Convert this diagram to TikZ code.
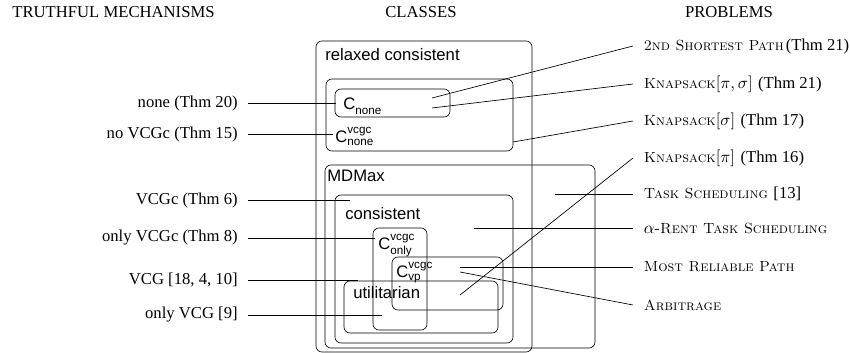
\documentclass[tikz,border=0pt]{standalone}
\usepackage{amsmath}
\usepackage{fontspec}
\setsansfont{Liberation Sans}
\newfontfamily\tms{Liberation Serif}
\usepackage{tikz}
\newcommand{\cls}[2]{\textsf{C}$_{\textsf{#1}}^{\textsf{#2}}$}
\newcommand{\thm}[1]{{\tms #1}}
\newcommand{\psc}[1]{{\fontsize{8.8}{11}\selectfont\textsc{#1}}}

\begin{document}
\begin{tikzpicture}[x=0.6pt,y=-0.6pt,
clsbox/.style={rounded corners=3.6pt},
clsname/.style={anchor=base west,inner sep=0pt,font=\sffamily},
mech/.style={anchor=east,inner sep=6pt,font=\tms},
prob/.style={anchor=west,inner sep=6.3pt},
head/.style={inner sep=0pt,font=\tms}]
\useasboundingbox (0,0) rectangle (850,353);
% headers
\node[head,anchor=west] (hmech) at (12,12.5) {TRUTHFUL MECHANISMS};
\node[head] (hcls) at (421,12.5) {CLASSES};
\node[head] (hprob) at (729,12.5) {PROBLEMS};
% classes
\draw[clsbox] (316,41) rectangle (532,352);
\draw[clsbox] (326,79) rectangle (513,151);
\draw[clsbox] (335,89) rectangle (450,117);
\draw[clsbox] (325,165) rectangle (595,348);
\draw[clsbox] (335,195) rectangle (513,343);
\draw[clsbox] (373,228) rectangle (427,330);
\draw[clsbox] (392,257) rectangle (503,310);
\draw[clsbox] (344,281) rectangle (498,333);
\node[clsname] (relaxed) at (325,61) {relaxed consistent};
\node[clsname] (cnone) at (343,110) {\cls{none}{}};
\node[clsname] (cnonevcgc) at (335,142) {\cls{none}{vcgc}};
\node[clsname] (mdmax) at (327,181) {MDMax};
\node[clsname] (consistent) at (345,219) {consistent};
\node[clsname] (conly) at (378,249) {\cls{only}{vcgc}};
\node[clsname] (cvp) at (396,277) {\cls{vp}{vcgc}};
\node[clsname] (util) at (353,298) {utilitarian};
% free ends inside the classes
\coordinate (p-none) at (336,103);
\coordinate (p-novcgc) at (333,134);
\coordinate (p-vcgc) at (350,200);
\coordinate (p-onlyvcgc) at (375,238);
\coordinate (p-vcg) at (358,280);
\coordinate (p-onlyvcg) at (382,315);
\coordinate (q-short) at (432,98);
\coordinate (q-kps) at (432,108);
\coordinate (q-ks) at (513,142);
\coordinate (q-kp) at (460,295);
\coordinate (q-task) at (555,194);
\coordinate (q-rent) at (474,228);
\coordinate (q-mrp) at (460,267);
\coordinate (q-arb) at (460,272);
% mechanisms
\node[mech] (m-none) at (248,103) {none (Thm 20)};
\node[mech] (m-novcgc) at (248,134) {no VCGc (Thm 15)};
\node[mech] (m-vcgc) at (248,200) {VCGc (Thm 6)};
\node[mech] (m-onlyvcgc) at (248,238) {only VCGc (Thm 8)};
\node[mech] (m-vcg) at (248,280) {VCG [18, 4, 10]};
\node[mech] (m-onlyvcg) at (248,315) {only VCG [9]};
\draw (m-none.east) -- (p-none);
\draw (m-novcgc.east) -- (p-novcgc);
\draw (m-vcgc.east) -- (p-vcgc);
\draw (m-onlyvcgc.east) -- (p-onlyvcgc);
\draw (m-vcg.east) -- (p-vcg);
\draw (m-onlyvcg.east) -- (p-onlyvcg);
% problems
\node[prob] (pr-short) at (633,46) {\psc{2nd Shortest Path}\kern1.2pt\thm{(Thm 21)}};
\node[prob] (pr-kps) at (633,84) {\psc{Knapsack}$[\pi,\sigma]$ \thm{(Thm 21)}};
\node[prob] (pr-ks) at (633,121) {\psc{Knapsack}$[\sigma]$ \thm{(Thm 17)}};
\node[prob] (pr-kp) at (633,158) {\psc{Knapsack}$[\pi]$ \thm{(Thm 16)}};
\node[prob] (pr-task) at (633,194) {\psc{Task Scheduling} \thm{[13]}};
\node[prob] (pr-rent) at (633,228) {$\alpha$-\psc{Rent Task Scheduling}};
\node[prob] (pr-mrp) at (633,267) {\psc{Most Reliable Path}};
\node[prob] (pr-arb) at (633,305) {\psc{Arbitrage}};
\draw (pr-short.west) -- (q-short);
\draw (pr-kps.west) -- (q-kps);
\draw (pr-ks.west) -- (q-ks);
\draw (pr-kp.west) -- (q-kp);
\draw (pr-task.west) -- (q-task);
\draw (pr-rent.west) -- (q-rent);
\draw (pr-mrp.west) -- (q-mrp);
\draw (pr-arb.west) -- (q-arb);
\end{tikzpicture}
\end{document}
